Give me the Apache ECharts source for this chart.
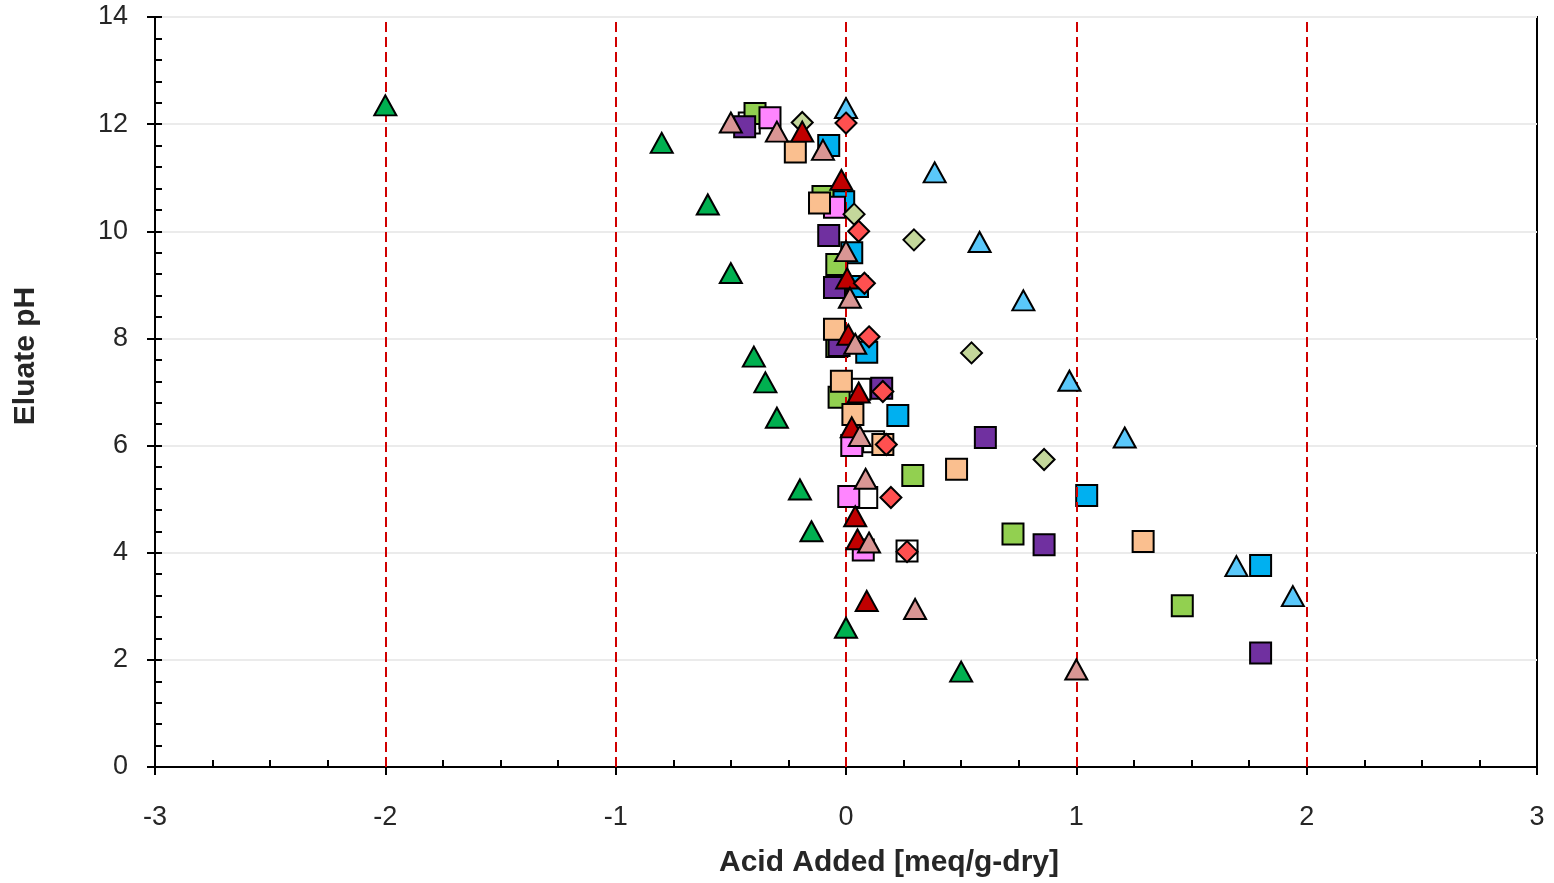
<!DOCTYPE html>
<html>
<head>
<meta charset="utf-8">
<script src="https://cdn.jsdelivr.net/npm/echarts@6/dist/echarts.min.js"></script>
<style>
html,body{margin:0;padding:0;background:#fff;}
#chart{width:1554px;height:883px;}
</style>
</head>
<body>
<div id="chart"></div>
<script>
// ---- data ----
var xTicks = [-3, -2, -1, 0, 1, 2, 3];
var yTicks = [0, 2, 4, 6, 8, 10, 12, 14];
var refLines = [-2, -1, 0, 1, 2];

var whiteSq = [[-0.42,12.02],[0.06,7.05],[0.12,6.07],[0.09,5.03],[0.265,4.03]];
var blueSq = [[-0.075,11.6],[-0.01,10.55],[0.025,9.6],[0.05,8.97],[0.09,7.74],[0.225,6.56],[1.045,5.07],[1.8,3.76]];
var greenSq = [[-0.395,12.2],[-0.1,10.65],[-0.04,9.38],[-0.04,7.85],[-0.03,6.9],[0.29,5.44],[0.725,4.35],[1.46,3.01]];
var purpleSq = [[-0.44,11.95],[-0.075,9.92],[-0.05,8.95],[-0.03,7.87],[0.155,7.07],[0.605,6.15],[0.86,4.15],[1.8,2.13]];
var pinkSq = [[-0.33,12.12],[-0.05,10.45],[0.025,6.0],[0.012,5.05],[0.075,4.05]];
var orangeSq = [[-0.22,11.48],[-0.115,10.53],[-0.05,8.17],[-0.02,7.2],[0.03,6.58],[0.16,6.02],[0.48,5.56],[1.29,4.21]];
var paleDia = [[-0.19,12.03],[0.035,10.32],[0.295,9.84],[0.545,7.73],[0.86,5.74]];
var greenTri = [[-2.0,12.35],[-0.8,11.65],[-0.6,10.5],[-0.5,9.22],[-0.4,7.66],[-0.35,7.18],[-0.3,6.52],[-0.2,5.18],[-0.15,4.4],[0.0,2.6],[0.5,1.78]];
var lightBlueTri = [[0.0,12.3],[0.385,11.1],[0.58,9.8],[0.77,8.71],[0.97,7.21],[1.21,6.15],[1.695,3.75],[1.94,3.19]];
var redTri = [[-0.19,11.86],[-0.02,10.96],[0.005,9.12],[0.01,8.07],[0.055,6.99],[0.025,6.34],[0.04,4.68],[0.05,4.25],[0.09,3.1]];
var roseTri = [[-0.5,12.03],[-0.3,11.86],[-0.1,11.52],[0.0,9.63],[0.017,8.76],[0.04,7.9],[0.06,6.18],[0.085,5.38],[0.1,4.19],[0.3,2.95],[1.0,1.82]];
var redDia = [[0.0,12.02],[0.055,10.0],[0.08,9.03],[0.1,8.03],[0.16,7.01],[0.175,6.02],[0.195,5.03],[0.265,4.02]];

// ---- chart ----
var FONT = "'Liberation Sans', Arial, sans-serif";
function sc(name, data, symbol, size, color, z) {
  return {
    name: name, type: 'scatter', data: data, symbol: symbol, symbolSize: size,
    xAxisIndex: 0, yAxisIndex: 0, z: z,
    itemStyle: { color: color, borderColor: '#000', borderWidth: 2, opacity: 1 }
  };
}
var chart = echarts.init(document.getElementById('chart'), null, {renderer: 'canvas'});
var option = {
  animation: false,
  backgroundColor: '#fff',
  grid: { left: 155, right: 17, top: 17, bottom: 115, show: true, borderColor: '#000', borderWidth: 2, backgroundColor: 'transparent' },
  xAxis: [
    {
      type: 'value', position: 'bottom', min: xTicks[0], max: xTicks[xTicks.length-1], interval: 1,
      axisLine: { show: true, onZero: false, lineStyle: { color: '#000', width: 2 } },
      axisTick: { show: true, inside: false, length: 8, lineStyle: { color: '#000', width: 2 } },
      axisLabel: { color: '#262626', fontSize: 27, fontFamily: FONT, margin: 37 },
      splitLine: { show: false },
      name: 'Acid Added [meq/g-dry]', nameLocation: 'middle', nameGap: 81,
      nameTextStyle: { color: '#262626', fontSize: 30, fontWeight: 'bold', fontFamily: FONT, padding: [0, 0, 0, 86] }
    },
    {
      type: 'value', position: 'bottom', min: xTicks[0], max: xTicks[xTicks.length-1], interval: 0.25,
      axisLine: { show: false, onZero: false },
      axisTick: { show: true, inside: true, length: 7, lineStyle: { color: '#000', width: 2 } },
      axisLabel: { show: false }, splitLine: { show: false }
    }
  ],
  yAxis: [
    {
      type: 'value', position: 'left', min: yTicks[0], max: yTicks[yTicks.length-1], interval: 2,
      axisLine: { show: true, onZero: false, lineStyle: { color: '#000', width: 2 } },
      axisTick: { show: true, inside: false, length: 8, lineStyle: { color: '#000', width: 2 } },
      axisLabel: { color: '#262626', fontSize: 27, fontFamily: FONT, margin: 27 },
      splitLine: { show: true, lineStyle: { color: '#ebebeb', width: 2 } },
      name: 'Eluate pH', nameLocation: 'middle', nameGap: 114, nameRotate: 90,
      nameTextStyle: { color: '#262626', fontSize: 30, fontWeight: 'bold', fontFamily: FONT, padding: [0, 0, 0, 72] }
    },
    {
      type: 'value', position: 'left', min: yTicks[0], max: yTicks[yTicks.length-1], interval: 0.4,
      axisLine: { show: false, onZero: false },
      axisTick: { show: true, inside: true, length: 7, lineStyle: { color: '#000', width: 2 } },
      axisLabel: { show: false }, splitLine: { show: false }
    }
  ],
  series: [
    {
      name: 'refs', type: 'scatter', data: [], xAxisIndex: 0, yAxisIndex: 0, z: 1,
      markLine: {
        silent: true, symbol: ['none', 'none'], label: { show: false },
        lineStyle: { color: '#d00000', width: 2, type: [10, 5] },
        data: refLines.map(function (v) { return { xAxis: v }; })
      }
    },
    sc('White squares', whiteSq, 'rect', 21, '#ffffff', 2),
    sc('Blue squares', blueSq, 'rect', 21, '#00b0f0', 3),
    sc('Green squares', greenSq, 'rect', 21, '#92d050', 4),
    sc('Purple squares', purpleSq, 'rect', 21, '#7030a0', 5),
    sc('Pink squares', pinkSq, 'rect', 21, '#ff85ff', 6),
    sc('Orange squares', orangeSq, 'rect', 21, '#fabf8f', 7),
    sc('Pale green diamonds', paleDia, 'diamond', 21, '#c4d79b', 8),
    sc('Green triangles', greenTri, 'triangle', [22, 20], '#00b050', 9),
    sc('Light blue triangles', lightBlueTri, 'triangle', [22, 20], '#5ac8fa', 10),
    sc('Red triangles', redTri, 'triangle', [22, 20], '#c00000', 11),
    sc('Rose triangles', roseTri, 'triangle', [22, 20], '#d99694', 12),
    sc('Red diamonds', redDia, 'diamond', 21, '#ff5050', 13)
  ]
};
chart.setOption(option);
</script>
</body>
</html>
